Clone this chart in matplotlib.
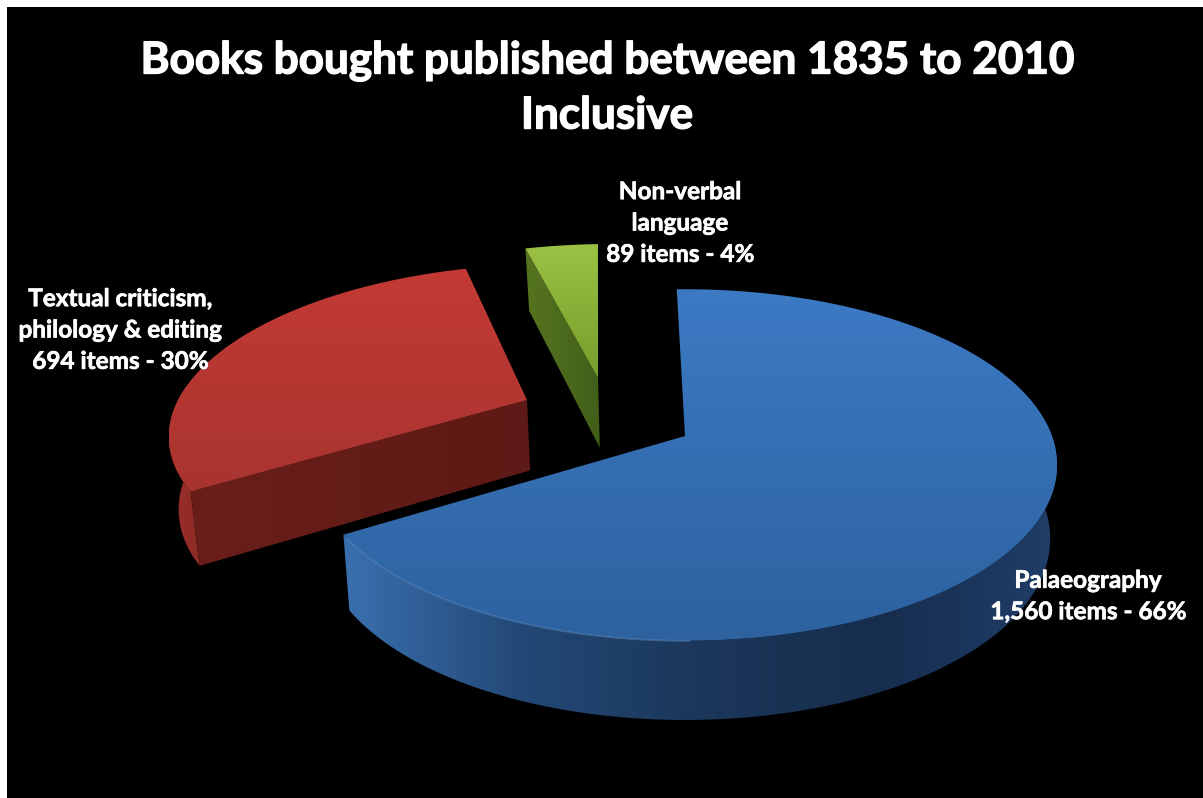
import numpy as np
import matplotlib
matplotlib.use("Agg")
import matplotlib.pyplot as plt
import matplotlib.patheffects as pe
from matplotlib.patches import Rectangle, PathPatch
from matplotlib.path import Path
from matplotlib.colors import LinearSegmentedColormap

plt.rcParams['font.family'] = ['Lato', 'DejaVu Sans']

# book counts per subject
categories = ['Palaeography', 'Textual criticism,\nphilology & editing', 'Non-verbal\nlanguage']
items = [1560, 694, 89]
percents = [66, 30, 4]
title = 'Books bought published between 1835 to 2010\nInclusive'

# slice styling, one entry per category
offsets = [(0.0, 0.0), (-0.446, 0.218), (-0.251, 0.358)]
radius = [1.0, 0.985, 1.02]
twist = [0.0, 0.5, 0.75]
show_cut = [False, True, True]
top_colors = [('#3c7ac4', '#2d629f'), ('#c43a35', '#a8342f'), ('#9cc244', '#779c2c')]
wall_colors = [('#3a70af', '#234876', '#1b375a', '#162d4e', '#203e69'),
               ('#a0302b', '#8a2a25'),
               ('#4f6e20', '#3f5a18')]
cut_colors = [('#22436c', '#22436c'), ('#6a1e19', '#5e1a16'), ('#56751f', '#425f1a')]
label_pos = [(1088, 596), (120, 330), (680, 223)]

# pie geometry on the pixel grid
cx, cy = 685, 436
rx, ry = 367, 171
persp = 0.165
depth = 72
start = 91.5


def project(x, y):
    s = 1 / (1 + persp * y)
    return cx + rx * x * s, cy - ry * y * s


def drop(x, y):
    # bottom rim of the slice, slightly pulled towards the middle
    px, py = project(x, y)
    return px - 7 * x, py + depth * (1 - 0.1 * y)


def gradient_fill(ax, pts, colors, vertical=True, zorder=2):
    pts = np.array(pts)
    x0, x1 = pts[:, 0].min(), pts[:, 0].max()
    y0, y1 = pts[:, 1].min(), pts[:, 1].max()
    cmap = LinearSegmentedColormap.from_list('g', list(colors))
    ramp = np.linspace(0, 1, 256)
    grad = ramp[:, None] if vertical else ramp[None, :]
    im = ax.imshow(grad, cmap=cmap, extent=(x0, x1, y1, y0), origin='upper',
                   aspect='auto', zorder=zorder, interpolation='bilinear')
    patch = PathPatch(Path(np.vstack([pts, pts[:1]])), transform=ax.transData,
                      facecolor='none', edgecolor='none')
    ax.add_patch(patch)
    im.set_clip_path(patch)


def draw_slice(ax, a0, a1, idx, order):
    ox, oy = offsets[idx]
    t = np.radians(np.linspace(a0 + twist[idx], a1 + twist[idx], 160))
    xs = ox + radius[idx] * np.cos(t)
    ys = oy + radius[idx] * np.sin(t)
    top_arc = [project(x, y) for x, y in zip(xs, ys)]
    low_arc = [drop(x, y) for x, y in zip(xs, ys)]
    tip_top = project(ox, oy)
    tip_low = drop(ox, oy)

    z = order * 10
    # outer wall, only on the front half of the rim
    front = np.sin(t) < 0.1
    if front.any():
        wall_top = [p for p, f in zip(top_arc, front) if f]
        wall_low = [p for p, f in zip(low_arc, front) if f]
        gradient_fill(ax, wall_top + wall_low[::-1], wall_colors[idx], vertical=False, zorder=z)
    # cut face turned towards the viewer
    if show_cut[idx]:
        gradient_fill(ax, [top_arc[0], tip_top, tip_low, low_arc[0]], cut_colors[idx],
                      vertical=False, zorder=z + 1)
    # top face
    gradient_fill(ax, [tip_top] + top_arc, top_colors[idx], vertical=True, zorder=z + 2)
    return top_arc


fig = plt.figure(figsize=(12.03, 7.98), dpi=100, facecolor='white')
ax = fig.add_axes([0, 0, 1, 1])
ax.add_patch(Rectangle((7, 7), 1196, 791, facecolor='black', edgecolor='none', zorder=0))

# slices run clockwise from the top
sweep = np.array(items) / sum(items) * 360
edges = start - np.concatenate([[0], np.cumsum(sweep)])
paint_order = [3, 2, 1]
for i in range(len(items)):
    arc = draw_slice(ax, edges[i], edges[i + 1], i, paint_order[i])
    if i == 0:
        # light rim on the front left of the big slice
        rim = np.array(arc[-40:-1])
        ax.plot(rim[:, 0], rim[:, 1], color='#6f9fd8', lw=1.2, alpha=0.4, zorder=40)

ax.set_xlim(0, 1203)
ax.set_ylim(798, 0)
ax.axis('off')

ax.text(607, 88, title, color='white', fontsize=31.7, fontweight='bold',
        ha='center', va='center', linespacing=1.44, zorder=50,
        path_effects=[pe.withStroke(linewidth=1.0, foreground='white')])
for i in range(len(items)):
    label = f'{categories[i]}\n{items[i]:,} items - {percents[i]}%'
    ax.text(label_pos[i][0], label_pos[i][1], label, color='white', fontsize=17.5,
            fontweight='bold', ha='center', va='center', linespacing=1.44, zorder=50,
            path_effects=[pe.withStroke(linewidth=0.5, foreground='white')])

fig.savefig('out.png', dpi=100, facecolor='white')
